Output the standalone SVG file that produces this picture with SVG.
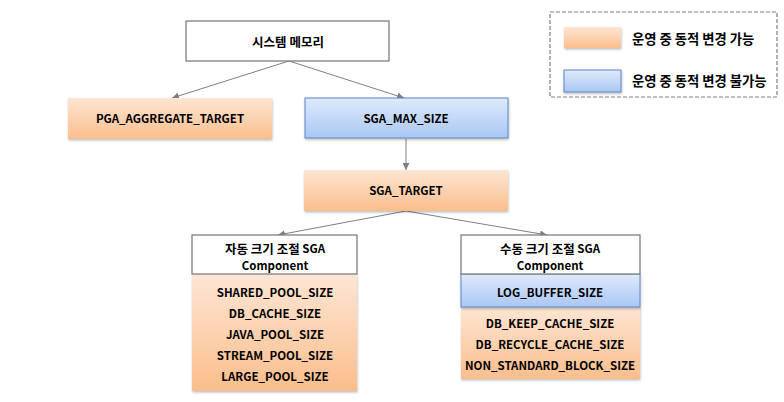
<svg xmlns="http://www.w3.org/2000/svg" width="784" height="402" viewBox="0 0 784 402">
<defs>
<linearGradient id="gOr" x1="0" y1="0" x2="0" y2="1"><stop offset="0" stop-color="#fde6d4"/><stop offset="1" stop-color="#fbbe8c"/></linearGradient>
<linearGradient id="gBl" x1="0" y1="0" x2="0" y2="1"><stop offset="0" stop-color="#dfeafc"/><stop offset="1" stop-color="#a9c7f4"/></linearGradient>
<filter id="sh" x="-5%" y="-10%" width="110%" height="130%"><feDropShadow dx="0.5" dy="1.5" stdDeviation="1" flood-color="#000" flood-opacity="0.25"/></filter>
<marker id="arr" viewBox="0 0 10 10" refX="10" refY="5" markerWidth="7" markerHeight="7" orient="auto" markerUnits="userSpaceOnUse"><path d="M0,0 L10,5 L0,10 z" fill="#7f7f7f"/></marker>
</defs>
<style>
text{font-family:"Noto Sans CJK KR","Open Sans",sans-serif;font-weight:bold;font-size:11.5px;fill:#000;text-anchor:middle;dominant-baseline:central}
.ko{font-size:12.5px}
.or{fill:url(#gOr);filter:url(#sh)}
.bl{fill:url(#gBl);stroke:#5b86c8;stroke-width:1;filter:url(#sh)}
.wh{fill:#fff;stroke:#7f7f7f;stroke-width:1.3}
.conn line{stroke:#7f7f7f;stroke-width:1;marker-end:url(#arr)}
.lg{text-anchor:start;font-size:13.3px}
</style>
<rect width="784" height="402" fill="#fff"/>
<g class="conn" id="connectors">
<line x1="289" y1="61" x2="172" y2="98"/>
<line x1="289" y1="61" x2="404" y2="98"/>
<line x1="406" y1="139" x2="406" y2="170"/>
<line x1="406" y1="211" x2="278" y2="235"/>
<line x1="406" y1="211" x2="547" y2="235"/>
</g>
<g id="sysmem"><rect class="wh" x="186" y="21" width="203" height="40"/><text class="ko" x="288" y="41">시스템 메모리</text></g>
<g id="pga"><rect class="or" x="68" y="98" width="204" height="41"/><text x="170" y="118">PGA_AGGREGATE_TARGET</text></g>
<g id="sgamax"><rect class="bl" x="305" y="98" width="203" height="40"/><text x="406" y="118">SGA_MAX_SIZE</text></g>
<g id="sgatarget"><rect class="or" x="304" y="170" width="204" height="41"/><text x="406" y="190">SGA_TARGET</text></g>
<g id="auto">
<rect class="or" x="192" y="274" width="165" height="117"/>
<rect class="wh" x="192" y="235" width="165" height="39"/>
<text x="275" y="247.5"><tspan class="ko">자동 크기 조절</tspan> SGA<tspan x="275" y="265">Component</tspan></text>
<text x="275" y="292">SHARED_POOL_SIZE</text>
<text x="275" y="313">DB_CACHE_SIZE</text>
<text x="275" y="334">JAVA_POOL_SIZE</text>
<text x="275" y="355">STREAM_POOL_SIZE</text>
<text x="275" y="376">LARGE_POOL_SIZE</text>
</g>
<g id="manual">
<rect class="or" x="461" y="307" width="179" height="72"/>
<rect class="bl" x="461" y="274" width="179" height="33"/>
<rect class="wh" x="461" y="235" width="179" height="39"/>
<text x="550" y="247.5"><tspan class="ko">수동 크기 조절</tspan> SGA<tspan x="550" y="265">Component</tspan></text>
<text x="550" y="292">LOG_BUFFER_SIZE</text>
<text x="550" y="323">DB_KEEP_CACHE_SIZE</text>
<text x="550" y="344">DB_RECYCLE_CACHE_SIZE</text>
<text x="550" y="365">NON_STANDARD_BLOCK_SIZE</text>
</g>
<g id="legend">
<rect x="550" y="12" width="227" height="85" fill="none" stroke="#7f7f7f" stroke-width="1.2" stroke-dasharray="4,2"/>
<rect class="or" x="564" y="27" width="57" height="21"/>
<rect class="bl" x="564" y="70" width="57" height="22"/>
<text class="lg" x="632" y="38">운영 중 동적 변경 가능</text>
<text class="lg" x="632" y="80">운영 중 동적 변경 불가능</text>
</g>
</svg>
